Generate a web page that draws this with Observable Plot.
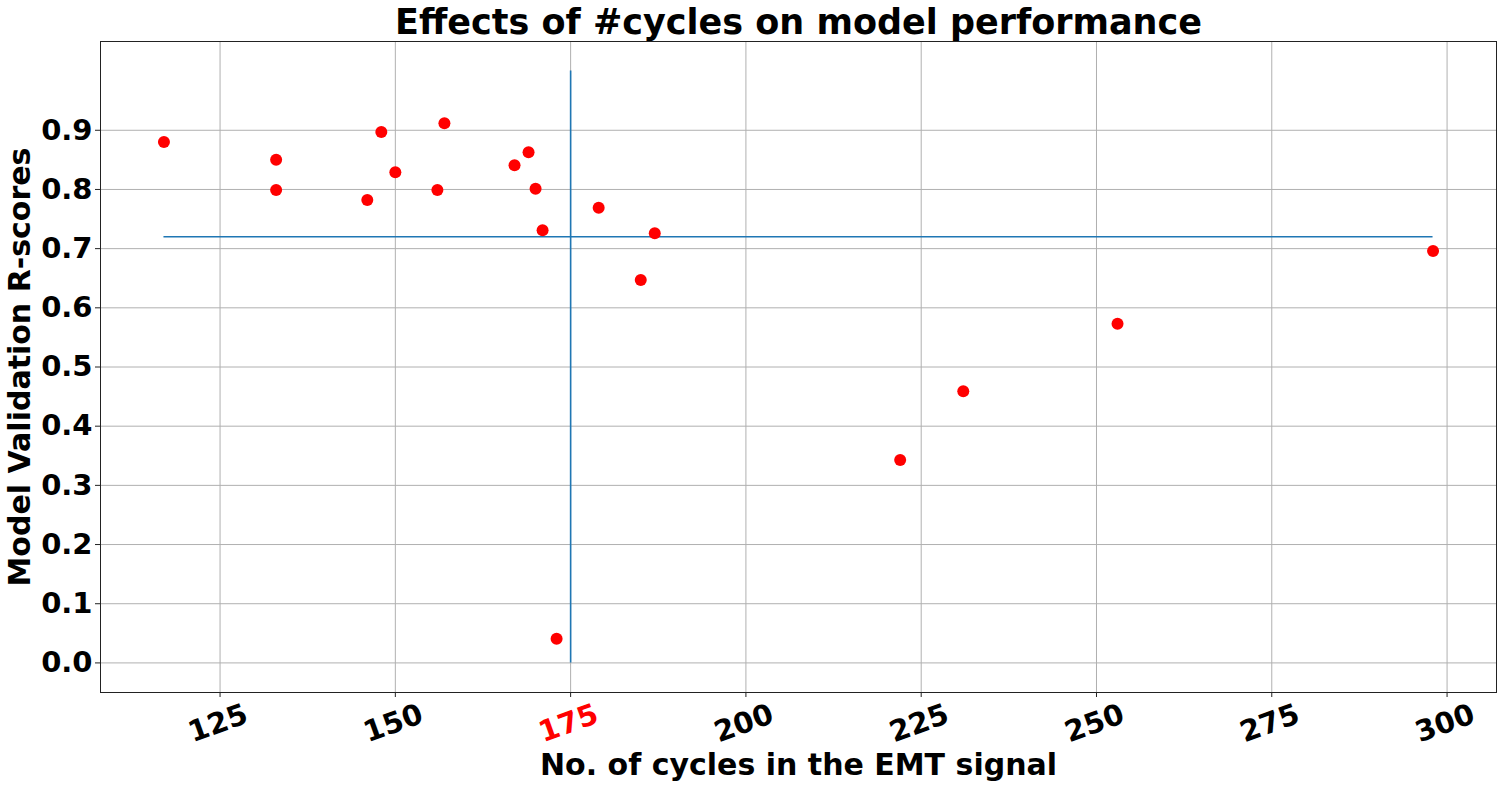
<!DOCTYPE html>
<html>
<head>
<meta charset="utf-8">
<script src="https://cdn.jsdelivr.net/npm/d3@7"></script>
<script src="https://cdn.jsdelivr.net/npm/@observablehq/plot@0.6"></script>
<style>
  html, body { margin: 0; padding: 0; background: #fff; }
  svg { display: block; }
</style>
</head>
<body>
<div id="chart"></div>
<script>
// ---- data ----
const cycles  = [117, 133, 133, 146, 148, 150, 156, 157, 167, 169, 170, 171, 173, 179, 185, 187, 222, 231, 253, 298];
const rScores = [0.880, 0.850, 0.799, 0.782, 0.897, 0.829, 0.799, 0.912, 0.841, 0.863, 0.801, 0.731, 0.041, 0.769, 0.647, 0.726, 0.343, 0.459, 0.573, 0.696];
const xTicks = [125, 150, 175, 200, 225, 250, 275, 300];
const yTicks = [0.0, 0.1, 0.2, 0.3, 0.4, 0.5, 0.6, 0.7, 0.8, 0.9];
const highlightTick = 175;
const hLineY = 0.72, hLineX = [117, 298];
const vLineX = 175, vLineY = [0, 1.0];
const titleText = "Effects of #cycles on model performance";
const xLabel = "No. of cycles in the EMT signal";
const yLabel = "Model Validation R-scores";

const points = cycles.map((c, i) => ({cycles: c, r: rScores[i]}));
const font = "DejaVu Sans";
const bold = "bold";

const chart = Plot.plot({
  width: 1502,
  height: 789,
  marginLeft: 100,
  marginRight: 6,
  marginTop: 41,
  marginBottom: 97,
  style: {fontFamily: font, background: "#fff"},
  x: {domain: [107.95, 307.05]},
  y: {domain: [-0.05, 1.05]},
  marks: [
    Plot.gridX(xTicks, {stroke: "#b0b0b0", strokeOpacity: 1, strokeWidth: 1}),
    Plot.gridY(yTicks, {stroke: "#b0b0b0", strokeOpacity: 1, strokeWidth: 1}),
    Plot.axisX({ticks: xTicks, tickSize: 5, tickFormat: () => "", label: null, stroke: "#222"}),
    Plot.axisY({ticks: yTicks, tickSize: 5, tickFormat: () => "", label: null, stroke: "#222"}),
    Plot.frame({stroke: "#222", strokeWidth: 1}),
    Plot.ruleY([hLineY], {x1: hLineX[0], x2: hLineX[1], stroke: "#1f77b4", strokeWidth: 1.6}),
    Plot.ruleX([vLineX], {y1: vLineY[0], y2: vLineY[1], stroke: "#1f77b4", strokeWidth: 1.6}),
    Plot.dot(points, {x: "cycles", y: "r", r: 6, fill: "red", stroke: "none"}),
    // x tick labels
    Plot.text(xTicks.filter(d => d !== highlightTick), {x: d => d, text: d => String(d), frameAnchor: "bottom", dy: 31, dx: -2, rotate: -20, fontSize: 29, fontWeight: bold, fill: "black", lineAnchor: "middle", textAnchor: "middle"}),
    Plot.text(xTicks.filter(d => d === highlightTick), {x: d => d, text: d => String(d), frameAnchor: "bottom", dy: 31, dx: -2, rotate: -20, fontSize: 29, fontWeight: bold, fill: "red", lineAnchor: "middle", textAnchor: "middle"}),
    // y tick labels
    Plot.text(yTicks, {y: d => d, text: d => d.toFixed(1), frameAnchor: "left", dx: -8, fontSize: 29, fontWeight: bold, fill: "black", textAnchor: "end", lineAnchor: "middle"}),
    // axis labels & title
    Plot.text([xLabel], {text: d => d, frameAnchor: "bottom", dy: 73, fontSize: 30, fontWeight: bold, fill: "black", lineAnchor: "middle", textAnchor: "middle"}),
    Plot.text([yLabel], {text: d => d, frameAnchor: "left", dx: -80, rotate: -90, fontSize: 30, fontWeight: bold, fill: "black", lineAnchor: "middle", textAnchor: "middle"}),
    Plot.text([titleText], {text: d => d, frameAnchor: "top", dy: -19, fontSize: 35, fontWeight: bold, fill: "black", lineAnchor: "middle", textAnchor: "middle"})
  ]
});
document.getElementById("chart").appendChild(chart);
</script>
</body>
</html>
